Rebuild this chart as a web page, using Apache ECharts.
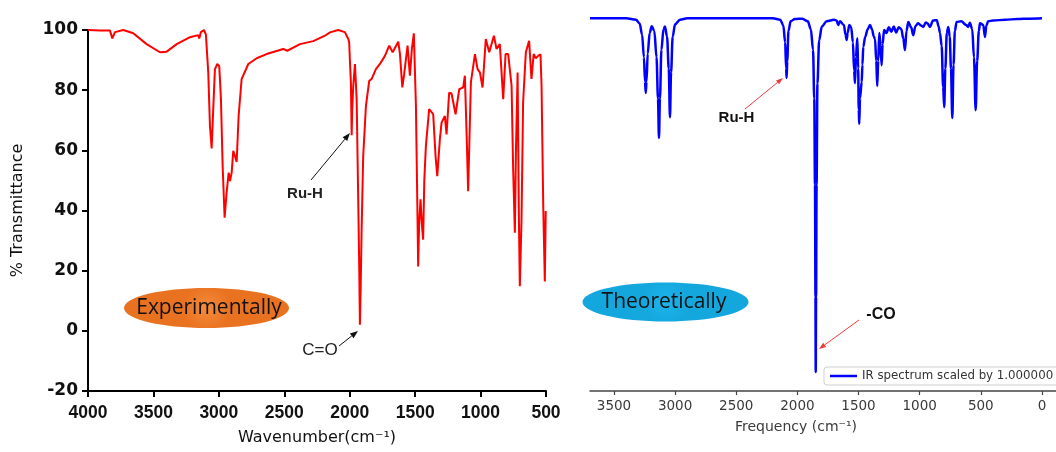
<!DOCTYPE html>
<html>
<head>
<meta charset="utf-8">
<script src="https://cdn.jsdelivr.net/npm/echarts@6/dist/echarts.min.js"></script>
<style>
  html, body { margin: 0; padding: 0; background: #fff; }
  #chart { width: 1056px; height: 452px; }
</style>
</head>
<body>
<div id="chart"></div>
<script>
// Experimental FT-IR spectrum (wavenumber in cm-1, % transmittance)
const expWavenumber = [
  4000, 3908, 3832, 3814, 3794, 3730, 3654, 3552, 3450, 3399, 3322, 3221, 3157, 3150, 3137, 3114,
  3099, 3081, 3068, 3055, 3043, 3030, 3012, 2997, 2984, 2971, 2956, 2941, 2925, 2915, 2902, 2890,
  2877, 2864, 2849, 2826, 2775, 2711, 2635, 2508, 2477, 2380, 2279, 2189, 2177, 2151, 2088, 2037,
  2011, 2004, 1998, 1991, 1985, 1981, 1973, 1960, 1947, 1935, 1927, 1922, 1916, 1909, 1897, 1876,
  1851, 1833, 1820, 1800, 1769, 1731, 1698, 1672, 1629, 1616, 1598, 1584, 1558, 1540, 1525, 1510,
  1494, 1481, 1477, 1470, 1459, 1448, 1439, 1430, 1418, 1393, 1362, 1344, 1331, 1311, 1298, 1273,
  1260, 1240, 1222, 1191, 1163, 1133, 1120, 1107, 1095, 1074, 1043, 1023, 1005, 985, 960, 934,
  898, 878, 853, 827, 809, 789, 763, 751, 738, 730, 717, 707, 700, 687, 675, 654,
  629, 611, 594, 578, 560, 542, 534, 521, 509, 502
];
const expTransmittance = [
  100, 99.8, 99.8, 97.2, 99.3, 100, 98.9, 95.3, 92.6, 92.8, 95.3, 97.6, 98.3, 97.2, 99.3, 100,
  98.5, 85.9, 68.1, 60.6, 73.7, 87, 88.7, 88, 77, 54.8, 37.6, 45.9, 52.6, 49.8, 52.6, 59.8,
  58.1, 56.1, 71.4, 83.7, 88.7, 90.6, 92, 93.7, 93.1, 95.3, 96.3, 98.1, 97.6, 99.2, 100, 99.3,
  97, 95.9, 89.2, 82.6, 65, 73.7, 81.4, 88.7, 77, 43.7, 20, 2, 15, 33.7, 58.1, 74.8,
  83.1, 83.7, 83.1, 87, 88.7, 91.4, 94.8, 92.6, 96.1, 92, 80.9, 85.3, 94.8, 84.8, 93.7, 98.9,
  74.8, 34.8, 21.4, 35, 43.7, 35, 30.3, 50, 61.4, 73.7, 72, 58.1, 51.4, 63.7, 69.2, 71.4,
  65.3, 79.2, 78.9, 72, 80.3, 80.9, 84.8, 65.9, 46.4, 82.6, 92, 87, 85.9, 80.9, 97, 92.6,
  98.1, 93.7, 95.3, 77, 92, 92, 81.4, 53.7, 32.6, 59.3, 85.9, 37, 14.8, 37, 76, 92.6,
  96.4, 83.7, 92, 90.6, 91.4, 91.9, 81.4, 41.4, 16.4, 39.8
];

// Computed IR spectrum (frequency in cm-1, relative transmittance)
const theoFrequency = [
  3696, 3400, 3320, 3290, 3270, 3255, 3246, 3240, 3234, 3224, 3208, 3191, 3170, 3152, 3140, 3132,
  3124, 3112, 3095, 3083, 3066, 3052, 3042, 3033, 3020, 3000, 2960, 2900, 2400, 2200, 2140, 2115,
  2100, 2092, 2088, 2083, 2073, 2055, 2020, 1960, 1915, 1890, 1872, 1862, 1856, 1852, 1850, 1847,
  1843, 1836, 1822, 1800, 1760, 1700, 1680, 1666, 1652, 1620, 1606, 1597, 1589, 1575, 1560, 1546,
  1536, 1529, 1521, 1510, 1503, 1498, 1494, 1488, 1474, 1468, 1461, 1445, 1425, 1406, 1390, 1375,
  1365, 1355, 1347, 1339, 1330, 1320, 1311, 1303, 1291, 1272, 1252, 1232, 1212, 1192, 1172, 1150,
  1134, 1120, 1108, 1093, 1070, 1052, 1035, 1012, 990, 970, 950, 935, 916, 890, 860, 845,
  834, 820, 808, 799, 790, 778, 766, 754, 744, 733, 723, 712, 698, 660, 620, 603,
  590, 570, 556, 542, 530, 516, 507, 480, 466, 455, 440, 400, 300, 200, 100, 0
];
const theoTransmittance = [
  99.4, 99.4, 99.0, 98.0, 95.0, 89.0, 82.5, 79.5, 82.5, 90.0, 95.5, 97.3, 96.0, 89.0, 78.0, 67.5,
  78.0, 91.0, 96.5, 97.2, 94.5, 86.0, 73.0, 85.0, 94.5, 97.8, 99.0, 99.4, 99.4, 99.4, 99.0, 97.5,
  93.0, 86.0, 83.5, 88.0, 96.0, 98.6, 99.2, 99.3, 98.6, 96.5, 91.0, 78.0, 55.0, 25.0, 5.1, 25.0,
  55.0, 82.0, 93.5, 97.2, 98.6, 99.0, 98.8, 97.6, 98.6, 97.6, 95.0, 93.6, 95.5, 97.6, 97.0, 93.0,
  85.5, 82.1, 89.0, 94.1, 86.0, 75.0, 71.2, 78.0, 82.4, 87.0, 91.8, 94.5, 96.5, 97.6, 96.5, 94.5,
  93.9, 88.0, 81.3, 88.0, 95.5, 92.0, 86.9, 92.5, 96.3, 95.5, 97.0, 95.8, 97.2, 95.6, 97.0, 96.5,
  94.0, 90.9, 96.0, 98.4, 97.0, 94.9, 97.3, 98.1, 97.5, 97.1, 98.3, 98.0, 97.1, 98.8, 98.9, 97.2,
  95.5, 92.0, 81.0, 75.7, 86.0, 95.5, 97.1, 94.5, 86.0, 72.8, 87.0, 96.0, 98.4, 98.6, 97.6, 97.1,
  98.2, 96.5, 89.0, 74.9, 88.0, 96.0, 98.1, 97.6, 94.4, 97.4, 98.6, 98.8, 99.0, 99.2, 99.3, 99.4
];

// Tick values
const wavenumberTicks = [4000, 3500, 3000, 2500, 2000, 1500, 1000, 500];
const frequencyTicks = [3500, 3000, 2500, 2000, 1500, 1000, 500, 0];

const zip = (xs, ys) => xs.map((x, i) => [x, ys[i]]);
const plain = v => String(v);

function arrow(x1, y1, x2, y2, color, headLen, headHalf) {
  const a = Math.atan2(y2 - y1, x2 - x1);
  const c = Math.cos(a), s = Math.sin(a);
  const bx = x2 - headLen * c, by = y2 - headLen * s;
  const px = -s * headHalf, py = c * headHalf;
  return [
    { type: 'line', silent: true, shape: { x1: x1, y1: y1, x2: bx, y2: by },
      style: { stroke: color, lineWidth: 1 } },
    { type: 'polygon', silent: true,
      shape: { points: [[x2, y2], [bx + px, by + py], [bx - px, by - py]] },
      style: { fill: color } }
  ];
}

function label(text, x, y, font, color) {
  return { type: 'text', silent: true,
    style: { text: text, x: x, y: y, font: font, fill: color || '#111',
             align: 'center', verticalAlign: 'middle',
             textAlign: 'center', textVerticalAlign: 'middle' } };
}

const chart = echarts.init(document.getElementById('chart'), null, { renderer: 'canvas' });

chart.setOption({
  animation: false,
  backgroundColor: '#fff',
  grid: [
    { left: 88, top: 30, width: 458, height: 361 },
    { left: 590, top: 16, right: 0, height: 375 }
  ],
  xAxis: [
    {
      gridIndex: 0, type: 'value', min: 500, max: 4000, interval: 500, inverse: true,
      axisLine: { show: true, onZero: false, lineStyle: { color: '#000', width: 2 } },
      axisTick: { show: true, length: 6, lineStyle: { color: '#000', width: 2 } },
      axisLabel: { fontSize: 17.5, margin: 13, formatter: plain, color: '#111',
                   fontFamily: '"Liberation Sans", Arial, sans-serif', fontWeight: 'bold' },
      splitLine: { show: false },
      name: 'Wavenumber(cm\u207B\u00B9)', nameLocation: 'middle', nameGap: 39,
      nameTextStyle: { fontFamily: '"DejaVu Sans", sans-serif', fontSize: 16, color: '#111' }
    },
    {
      gridIndex: 1, type: 'value', min: -115, max: 3696, inverse: true,
      axisLine: { show: true, onZero: false, lineStyle: { color: '#444', width: 1.5 } },
      axisTick: { show: true, length: 4, customValues: frequencyTicks, lineStyle: { color: '#444', width: 1.2 } },
      axisLabel: { customValues: frequencyTicks, fontSize: 13.5, margin: 8, formatter: plain,
                   fontFamily: '"DejaVu Sans", sans-serif', color: '#3a3a3a' },
      splitLine: { show: false }
    }
  ],
  yAxis: [
    {
      gridIndex: 0, type: 'value', min: -20, max: 100, interval: 20,
      axisLine: { show: true, onZero: false, lineStyle: { color: '#000', width: 2 } },
      axisTick: { show: true, length: 6, lineStyle: { color: '#000', width: 2 } },
      axisLabel: { fontSize: 17, margin: 10, formatter: plain, color: '#111',
                   fontFamily: '"DejaVu Sans", sans-serif', fontWeight: 'bold' },
      splitLine: { show: false },
      name: '% Transmittance', nameLocation: 'middle', nameGap: 62, nameRotate: 90,
      nameTextStyle: { fontFamily: '"DejaVu Sans", sans-serif', fontSize: 16, color: '#111' }
    },
    { gridIndex: 1, type: 'value', min: 0, max: 100, show: false }
  ],
  legend: {
    data: [{ name: 'IR spectrum scaled by 1.000000', icon: 'rect' }],
    left: 824, top: 367, itemWidth: 27, itemHeight: 2.5, padding: [3, 6],
    borderColor: '#cfcfcf', borderWidth: 1, borderRadius: 3,
    backgroundColor: 'rgba(255,255,255,0.85)', selectedMode: false,
    textStyle: { fontFamily: '"DejaVu Sans", sans-serif', fontSize: 11.8, color: '#333' }
  },
  series: [
    {
      name: 'Experimental', type: 'line', xAxisIndex: 0, yAxisIndex: 0,
      data: zip(expWavenumber, expTransmittance),
      symbol: 'none', lineStyle: { color: '#ff0000', width: 2 }, itemStyle: { color: '#ff0000' }
    },
    {
      name: 'IR spectrum scaled by 1.000000', type: 'line', xAxisIndex: 1, yAxisIndex: 1,
      data: zip(theoFrequency, theoTransmittance), clip: false,
      symbol: 'none', smooth: 0.35, smoothMonotone: 'x',
      lineStyle: { color: '#0000ff', width: 2.5 }, itemStyle: { color: '#0000ff' }
    }
  ],
  graphic: [
    // badges
    { type: 'ellipse', silent: true, shape: { cx: 206.5, cy: 308, rx: 82.5, ry: 20 },
      style: { fill: new echarts.graphic.RadialGradient(0.5, 0.5, 0.6, [
        { offset: 0, color: '#f48b3c' }, { offset: 1, color: '#e97220' }]) } },
    label('Experimentally', 209, 308, '21px "Open Sans", sans-serif', '#111'),
    { type: 'ellipse', silent: true, shape: { cx: 665.5, cy: 302, rx: 83, ry: 19.5 },
      style: { fill: new echarts.graphic.RadialGradient(0.5, 0.5, 0.6, [
        { offset: 0, color: '#1db4ea' }, { offset: 1, color: '#14a7de' }]) } },
    label('Theoretically', 664, 302, '21px "Open Sans", sans-serif', '#111'),
    // annotations, experimental
    label('Ru-H', 305, 194, 'bold 15px "Liberation Sans", Arial, sans-serif', '#222'),
    ...arrow(311, 180, 350, 133, '#111', 8, 3),
    label('C=O', 320, 350, '17px "Liberation Sans", Arial, sans-serif', '#222'),
    ...arrow(339, 346, 358, 331, '#111', 8, 3),
    // annotations, computed
    label('Ru-H', 736.5, 118, 'bold 15px "Liberation Sans", Arial, sans-serif', '#111'),
    ...arrow(745, 109, 783, 78, '#ef3b3b', 7, 2.5),
    label('-CO', 881, 315, 'bold 16px "Liberation Sans", Arial, sans-serif', '#111'),
    ...arrow(859, 320, 819, 349, '#ef3b3b', 7, 2.5),
    // x-axis title of computed spectrum
    label('Frequency (cm\u207B\u00B9)', 796, 427, '14px "DejaVu Sans", sans-serif', '#3a3a3a')
  ]
});
</script>
</body>
</html>
